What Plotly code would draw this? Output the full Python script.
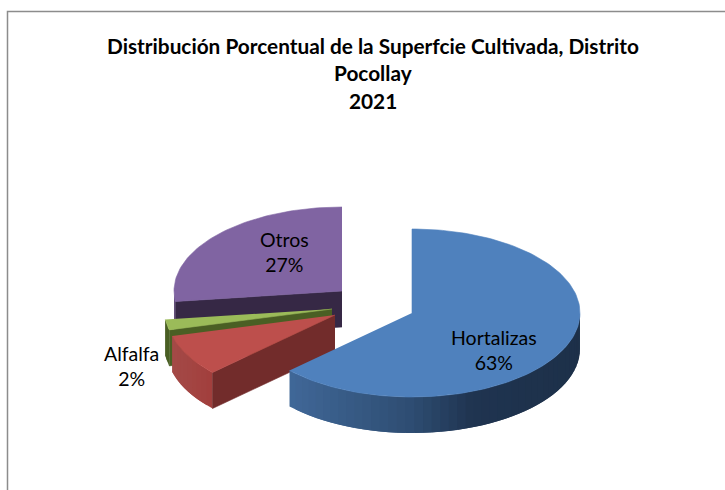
import numpy as np
import plotly.graph_objects as go

categories = ["Hortalizas", "Cultivo", "Alfalfa", "Otros"]
values = [63, 8, 2, 27]
show_label = [True, False, True, True]
title_lines = ["Distribución Porcentual de la Superfcie Cultivada, Distrito", "Pocollay", "2021"]

# Drawing parameters for the extruded, exploded ellipse
top_colors = ["#4f81bd", "#bd4f4c", "#9bbb59", "#8064a2"]
wall_colors = ["#1f3450", "#722c2b", "#4a5f24", "#362845"]
apex = [(412, 313), (335, 315), (332, 309), (342, 291)]
label_pos = [(494, 350), None, (131, 366), (284, 252)]
RX, RY, DEPTH = 168, 84, 36
W, H = 725, 490


def pt(a, c, drop=0):
    r = np.radians(a)
    return c[0] + RX * np.sin(r), c[1] - RY * np.cos(r) + drop


def arc(a0, a1, c, drop=0, n=None):
    n = n or max(2, int(abs(a1 - a0) / 1.5) + 2)
    t = np.linspace(a0, a1, n)
    x, y = pt(t, c, drop)
    return list(x), list(y)


def poly(fig, xs, ys, color, lw=0.6):
    fig.add_trace(go.Scatter(x=xs, y=ys, mode="lines", fill="toself", fillcolor=color,
                             line=dict(color=color, width=lw), hoverinfo="skip", showlegend=False))


def mix(c0, c1, f):
    a = [int(c0[i:i + 2], 16) for i in (1, 3, 5)]
    b = [int(c1[i:i + 2], 16) for i in (1, 3, 5)]
    return "#%02x%02x%02x" % tuple(round(p + (q - p) * f) for p, q in zip(a, b))


def rim(fig, a0, a1, c, stops):
    t = np.linspace(a0, a1, max(2, int(abs(a1 - a0) / 3) + 2))
    step = t[1] - t[0]
    for s, e in zip(t[:-1], t[1:]):
        end = min(a1, e + step) if step > 0 else max(a1, e + step)  # each band overlaps the next
        x0, y0 = arc(s, end, c)
        x1, y1 = arc(end, s, c, DEPTH)
        xm = pt((s + e) / 2, c)[0]
        col = stops[-1][1]
        for (p0, k0), (p1, k1) in zip(stops[:-1], stops[1:]):
            if xm - c[0] <= p1:
                col = mix(k0, k1, min(1, max(0, (xm - c[0] - p0) / (p1 - p0))))
                break
        poly(fig, x0 + x1, y0 + y1, col, lw=0)


# Angular extent of each slice, clockwise from twelve o'clock
edges = np.cumsum([0] + values) * 3.6
fig = go.Figure()

# Purple
a0, a1 = edges[3], edges[4]
c = apex[3]
p0, p1 = pt(a0, c), pt(a0, c, DEPTH)
poly(fig, [c[0], p0[0], p1[0], c[0]], [c[1], p0[1], p1[1], c[1] + DEPTH], wall_colors[3])
rim(fig, a0, 270, c, [(-170, "#5c4876"), (170, "#5c4876")])
ax, ay = arc(a0, a1, c)
poly(fig, [c[0]] + ax, [c[1]] + ay, top_colors[3])

# Green
a0, a1 = edges[2], edges[3]
c = apex[2]
p0, p1 = pt(a0, c), pt(a0, c, DEPTH)
rim(fig, a0, a1, c, [(-170, "#4a5f24"), (170, "#4a5f24")])
poly(fig, [c[0], p0[0], p1[0], c[0]], [c[1], p0[1], p1[1], c[1] + DEPTH], wall_colors[2])
ax, ay = arc(a0, a1, c)
poly(fig, [c[0]] + ax, [c[1]] + ay, top_colors[2])

# Red
a0, a1 = edges[1], edges[2]
c = apex[1]
p0, p1 = pt(a0, c), pt(a0, c, DEPTH)
rim(fig, a0, a1, c, [(-170, "#a44c49"), (-120, "#a23e3c")])
poly(fig, [c[0], p0[0], p1[0], c[0]], [c[1], p0[1], p1[1], c[1] + DEPTH], wall_colors[1])
ax, ay = arc(a0, a1, c)
poly(fig, [c[0]] + ax, [c[1]] + ay, top_colors[1])

# Blue
a0, a1 = edges[0], edges[1]
c = apex[0]
rim(fig, a1, 90, c, [(-130, "#41699a"), (0, "#2e4d72"), (60, "#1f3450"), (170, "#1d3049")])
ax, ay = arc(a0, a1, c)
poly(fig, [c[0]] + ax, [c[1]] + ay, top_colors[0])

# Frame
fig.add_trace(go.Scatter(x=[7.5, 7.5, W], y=[H, 11.5, 11.5], mode="lines",
                         line=dict(color="#8c8c8c", width=1.5), hoverinfo="skip", showlegend=False))

for text, y in zip(title_lines, (45, 72, 100)):
    fig.add_annotation(x=373, y=y, text=f"<b>{text}</b>", showarrow=False, xanchor="center", yanchor="middle",
                       font=dict(family="Lato", size=20.8, color="#000000"))

for name, val, show, pos in zip(categories, values, show_label, label_pos):
    if show:
        fig.add_annotation(x=pos[0], y=pos[1], text=f"{name}<br>{val}%", showarrow=False, align="center",
                           xanchor="center", yanchor="middle",
                           font=dict(family="Lato", size=19.5, color="#000000"))

fig.update_layout(width=W, height=H, margin=dict(l=0, r=0, t=0, b=0), paper_bgcolor="white", plot_bgcolor="white",
                  showlegend=False, hovermode=False,
                  xaxis=dict(range=[0, W], visible=False, fixedrange=True),
                  yaxis=dict(range=[H, 0], visible=False, fixedrange=True))
fig.write_html("out.html", config={"displayModeBar": False},
               post_script="document.body.style.margin='0';document.documentElement.style.overflow='hidden';")
